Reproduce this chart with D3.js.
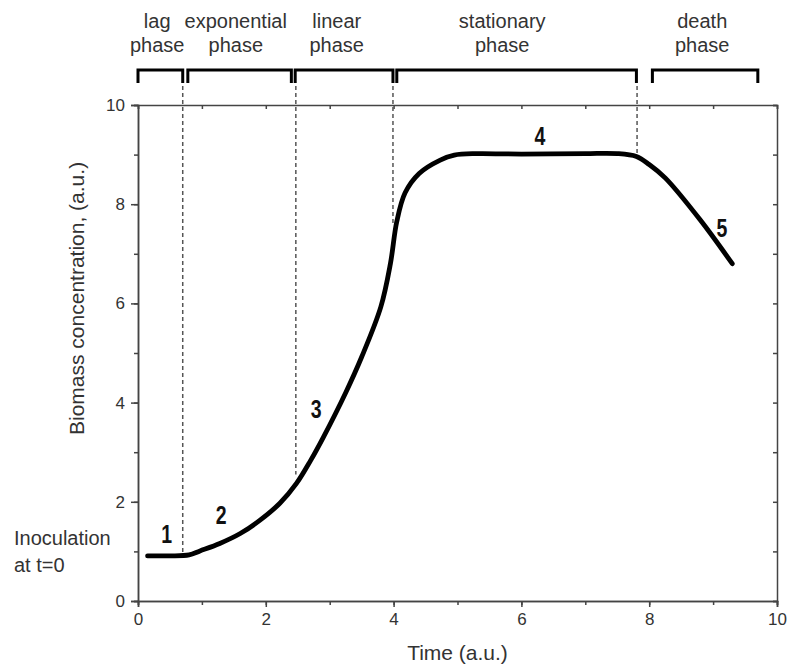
<!DOCTYPE html>
<html><head><meta charset="utf-8">
<script src="https://cdn.jsdelivr.net/npm/d3@7"></script>
<style>body{margin:0;background:#fff}</style>
</head><body><svg id="c" width="792" height="666"></svg>
<script>
const timeValues    = [0.15, 0.5, 0.8, 0.97, 1.28, 1.6, 1.91, 2.22, 2.48, 2.7, 2.9, 3.25, 3.5, 3.8, 3.95, 4.05, 4.18, 4.4, 4.73, 4.95, 5.3, 6.0, 7.0, 7.5, 7.8, 8.0, 8.25, 8.8, 9.3];
const biomassValues = [0.91, 0.91, 0.93, 1.01, 1.16, 1.36, 1.63, 1.97, 2.37, 2.83, 3.3, 4.2, 4.92, 5.93, 6.8, 7.65, 8.23, 8.62, 8.89, 8.99, 9.02, 9.01, 9.02, 9.02, 8.96, 8.8, 8.53, 7.68, 6.8];
const xTicks = [0, 2, 4, 6, 8, 10];
const yTicks = [0, 2, 4, 6, 8, 10];
const phaseLine1 = ["lag", "exponential", "linear", "stationary", "death"];
const phaseLine2 = ["phase", "phase", "phase", "phase", "phase"];
const phaseStart = [0.0, 0.78, 2.46, 4.05, 8.05];
const phaseEnd   = [0.7, 2.40, 3.99, 7.8, 9.7];
const phaseLabelX = [0.30, 1.53, 3.11, 5.70, 8.83];
const boundaryTimes  = [0.70, 2.47, 3.99, 7.81];
const boundaryValues = [0.91, 2.55, 7.6, 8.97];
const stageNumbers = ["1", "2", "3", "4", "5"];
const stageX = [0.45, 1.30, 2.79, 6.29, 9.14];
const stageY = [1.17, 1.55, 3.69, 9.19, 7.34];
const xTitle = "Time (a.u.)";
const yTitle = "Biomass concentration, (a.u.)";
const noteLines = ["Inoculation", "at t=0"];

const svg = d3.select("#c");
const L = 138, R = 777, T = 105, B = 601;
const x = d3.scaleLinear().domain([0, 10]).range([L, R]);
const y = d3.scaleLinear().domain([0, 10]).range([B, T]);
const axisColor = "#444";
const textColor = "#333";
const font = "'Liberation Sans', Arial, sans-serif";

const minorX = d3.range(0, 10.01, 1);
const minorY = d3.range(0, 10.01, 1);

const gB = svg.append("g").attr("transform", `translate(0,${B})`)
  .call(d3.axisBottom(x).tickValues(minorX).tickSize(4).tickFormat(""));
const gB2 = svg.append("g").attr("transform", `translate(0,${B})`)
  .call(d3.axisBottom(x).tickValues(xTicks).tickSize(6).tickPadding(6).tickFormat(d3.format("d")));
const gL = svg.append("g").attr("transform", `translate(${L},0)`)
  .call(d3.axisLeft(y).tickValues(minorY).tickSize(4).tickFormat(""));
const gL2 = svg.append("g").attr("transform", `translate(${L},0)`)
  .call(d3.axisLeft(y).tickValues(yTicks).tickSize(7).tickPadding(6).tickFormat(d3.format("d")));
const gT = svg.append("g").attr("transform", `translate(0,${T})`)
  .call(d3.axisTop(x).tickValues(minorX).tickSize(-4).tickFormat(""));
const gR = svg.append("g").attr("transform", `translate(${R},0)`)
  .call(d3.axisRight(y).tickValues(minorY).tickSize(-4).tickFormat(""));

[gB, gB2, gL, gL2, gT, gR].forEach(g => {
  g.select(".domain").attr("stroke", axisColor).attr("stroke-width", 1.5);
  g.selectAll(".tick line").attr("stroke", axisColor).attr("stroke-width", 1.5);
  g.selectAll(".tick text").attr("fill", textColor).style("font-family", font).style("font-size", "17px");
});

svg.append("text").attr("x", x(5)).attr("y", 660).attr("text-anchor", "middle")
  .attr("fill", textColor).style("font-family", font).style("font-size", "21px").text(xTitle);
svg.append("text").attr("transform", `translate(84,${y(6.1)}) rotate(-90)`).attr("text-anchor", "middle")
  .attr("fill", textColor).style("font-family", font).style("font-size", "21px").text(yTitle);

svg.append("g").selectAll("line").data(boundaryTimes).join("line")
  .attr("x1", d => x(d)).attr("x2", d => x(d))
  .attr("y1", 86).attr("y2", (d, i) => y(boundaryValues[i]))
  .attr("stroke", "#555").attr("stroke-width", 1.5).attr("stroke-dasharray", "4,3");

const line = d3.line().x(d => x(d[0])).y(d => y(d[1])).curve(d3.curveCatmullRom.alpha(0.5));
svg.append("path").datum(timeValues.map((t, i) => [t, biomassValues[i]]))
  .attr("d", line).attr("fill", "none").attr("stroke", "#000").attr("stroke-width", 4.8)
  .attr("stroke-linecap", "round").attr("stroke-linejoin", "round");

const bTop = 70, bBot = 83;
svg.append("g").selectAll("path").data(phaseStart).join("path")
  .attr("d", (d, i) => `M${x(d)},${bBot}V${bTop}H${x(phaseEnd[i])}V${bBot}`)
  .attr("fill", "none").attr("stroke", "#000").attr("stroke-width", 3);

const pl = svg.append("g").attr("fill", textColor).style("font-family", font).style("font-size", "20px").attr("text-anchor", "middle");
pl.selectAll("text.l1").data(phaseLine1).join("text").attr("class", "l1")
  .attr("x", (d, i) => x(phaseLabelX[i])).attr("y", 28).text(d => d);
pl.selectAll("text.l2").data(phaseLine2).join("text").attr("class", "l2")
  .attr("x", (d, i) => x(phaseLabelX[i])).attr("y", 52).text(d => d);

svg.append("g").selectAll("text").data(stageNumbers).join("text")
  .attr("transform", (d, i) => `translate(${x(stageX[i])},${y(stageY[i])}) scale(0.78,1)`)
  .attr("text-anchor", "middle").attr("fill", "#111")
  .style("font-family", font)
  .style("font-weight", "bold").style("font-size", "25px").text(d => d);

svg.append("g").selectAll("text").data(noteLines).join("text")
  .attr("x", 14).attr("y", (d, i) => 545 + i * 27)
  .attr("fill", textColor).style("font-family", font).style("font-size", "20px").text(d => d);
</script>
</body></html>
